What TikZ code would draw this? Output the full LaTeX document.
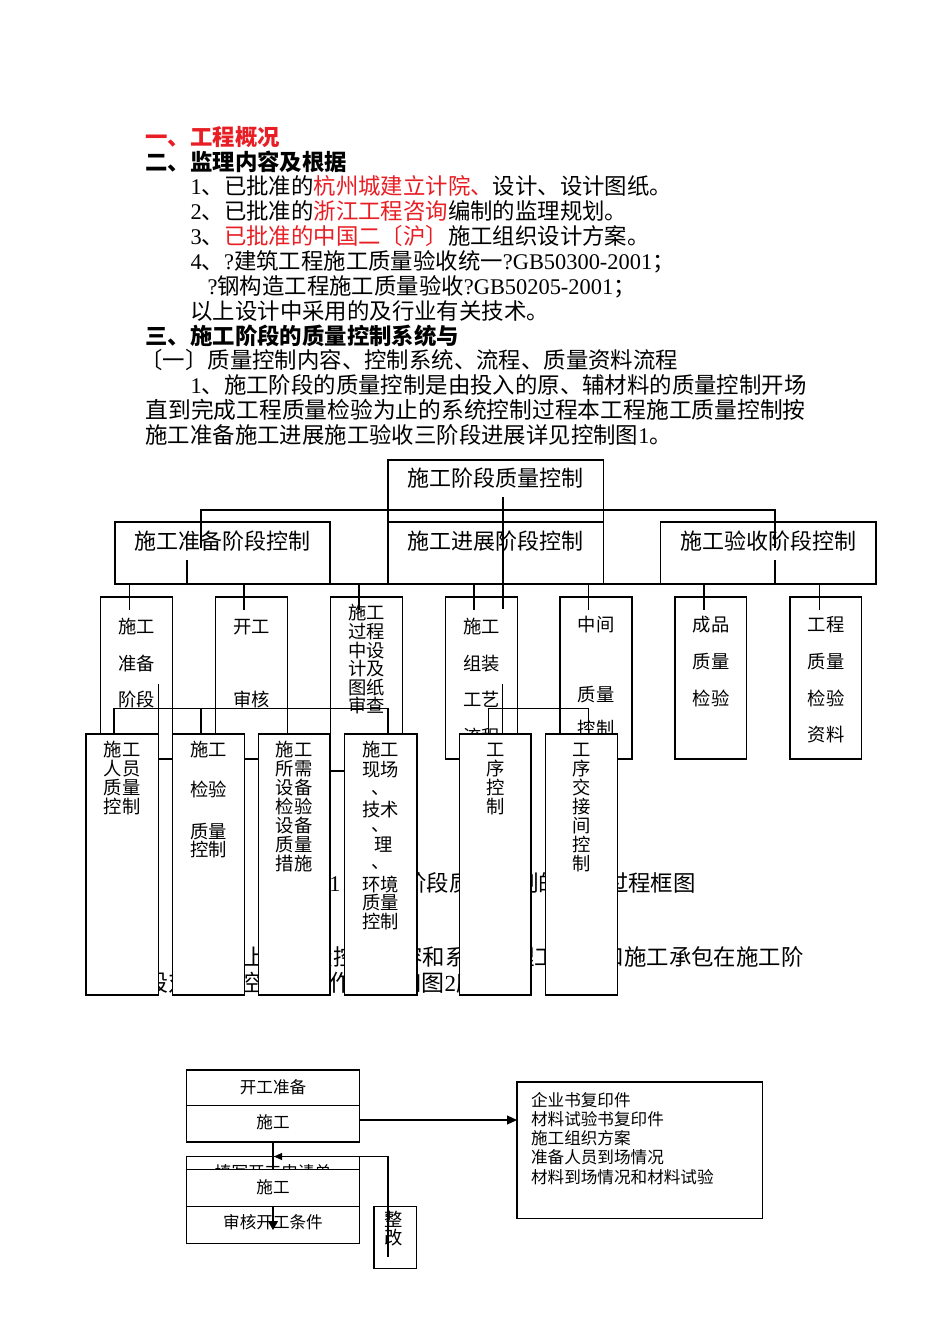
\documentclass[tikz,border=0pt]{standalone}
\usepackage{fontspec}
\setmainfont{Noto Sans CJK SC}
\newfontfamily\lat{Liberation Serif}
\usetikzlibrary{arrows.meta}
\definecolor{hred}{RGB}{232,30,36}
\newcommand{\bx}[5]{\node[box, minimum width={#4pt-#2pt}, minimum height={#5pt-#3pt}] (#1) at (#2,#3) {};}
\newcommand{\col}[4]{\foreach \yy/\tx [count=\i] in {#4} {\node[#3] (#1-\i) at (#2,\yy) {\tx};}}
\begin{document}
\begin{tikzpicture}[x=1pt,y=-1pt,line width=1.1pt,
  hd/.style={inner sep=0pt,text height=19.7pt,text depth=2.7pt,anchor=west,font=\fontsize{22.4}{25}\selectfont},
  hb/.style={hd,font=\bfseries\fontsize{22.4}{25}\selectfont},
  big/.style={inner sep=0pt,text height=19.4pt,text depth=2.6pt,font=\fontsize{22}{24}\selectfont},
  sm/.style={inner sep=0pt,text height=16.1pt,text depth=2.2pt,font=\fontsize{18.3}{19}\selectfont},
  fl/.style={inner sep=0pt,text height=14.6pt,text depth=2pt,font=\fontsize{16.6}{19}\selectfont},
  box/.style={draw,fill=white,anchor=north west,inner sep=0pt,outer sep=0pt},
]
\fill[white] (0,0) rectangle (950,1344);
\useasboundingbox (0,0) rectangle (950,1344);

% ---------- header text ----------
\node[hb,text=hred] (h1) at (145,137) {一、工程概况};
\node[hb] (h2) at (145,162) {二、监理内容及根据};
\node[hd] (h3) at (190,186) {{\lat 1}、已批准的\textcolor{hred}{杭州城建立计院、}设计、设计图纸。};
\node[hd] (h4) at (190,211) {{\lat 2}、已批准的\textcolor{hred}{浙江工程咨询}编制的监理规划。};
\node[hd] (h5) at (190,236) {{\lat 3}、\textcolor{hred}{已批准的中国二〔沪〕}施工组织设计方案。};
\node[hd] (h6) at (190,261) {{\lat 4}、{\lat ?}建筑工程施工质量验收统一{\lat ?GB50300-2001}；};
\node[hd] (h7) at (207,286) {{\lat ?}钢构造工程施工质量验收{\lat ?GB50205-2001}；};
\node[hd] (h8) at (190,311) {以上设计中采用的及行业有关技术。};
\node[hb] (h9) at (145,336) {三、施工阶段的质量控制系统与};
\node[hd] (h10) at (140,360) {〔一〕质量控制内容、控制系统、流程、质量资料流程};
\node[hd] (h11) at (190,385) {{\lat 1}、施工阶段的质量控制是由投入的原、辅材料的质量控制开场};
\node[hd,font=\fontsize{22.76}{25}\selectfont] (h12) at (145,410) {直到完成工程质量检验为止的系统控制过程本工程施工质量控制按};
\node[hd] (h13) at (145,435) {施工准备施工进展施工验收三阶段进展详见控制图{\lat 1}。};

% ---------- text lying behind the chart ----------
\node[hd,anchor=east] (cap1) at (341,883) {图{\lat 1}};
\node[hd] (cap2) at (359.2,883) {施工阶段质量控制的系统过程框图};
\node[hd] (p1) at (187,957) {{\lat 2}、以上的质量控制内容和系统监理工程师和施工承包在施工阶};
\node[hd,font=\fontsize{23}{25}\selectfont] (p2) at (145,983) {段对质量控制的工作程序如图{\lat 2}所示。};

% ---------- top and stage boxes ----------
\bx{top}{388}{460}{603.5}{522}
\bx{A}{115}{522}{330}{584}
\bx{B}{388}{522}{603.5}{584}
\bx{C}{660.5}{522}{876}{584}
\node[big] (topt) at (495.7,478) {施工阶段质量控制};
\node[big] (At) at (222.5,541) {施工准备阶段控制};
\node[big] (Bt) at (495.7,541) {施工进展阶段控制};
\node[big] (Ct) at (768.3,541) {施工验收阶段控制};

% ---------- first row of sub boxes ----------
\bx{c1}{100.7}{597}{172.3}{759}
\bx{c2}{215.7}{597}{287.3}{759}
\bx{c3}{330.7}{597}{402.3}{771}
\bx{c4}{445.3}{597}{517.3}{759}
\bx{c5}{560}{597}{632}{759}
\bx{c6}{675}{597}{746.7}{759}
\bx{c7}{790}{597}{861.7}{759}
\col{c1t}{136.5}{sm}{626.7/施工,663.3/准备,700/阶段}
\col{c2t}{251.5}{sm}{626.7/开工,700/审核}
\col{c3t}{366.5}{sm}{613/施工,631.6/过程,650.2/中设,668.8/计及,687.4/图纸,706/审查}
\col{c4t}{481.7}{sm}{626.7/施工,663.3/组装,700/工艺,736.7/流程}
\col{c5t}{596}{sm}{625/中间,695/质量,728.3/控制}
\col{c6t}{711}{sm}{625/成品,661.7/质量,698.3/检验}
\col{c7t}{826}{sm}{625/工程,661.7/质量,698.3/检验,735/资料}

% ---------- connectors, upper levels ----------
\coordinate (k1) at (201,510); \coordinate (k2) at (775,510);
\coordinate (k1b) at (201,548); \coordinate (k2b) at (775,548);
\coordinate (km1) at (503,497); \coordinate (km2) at (503,609);
\coordinate (kA1) at (187,560); \coordinate (kA2) at (187,584);
\coordinate (kC1) at (775,560); \coordinate (kC2) at (775,584);
\draw (k1b) -- (k1) -- (k2) -- (k2b);
\draw (km1) -- (km2);
\draw (kA1) -- (kA2);
\draw (kC1) -- (kC2);
\coordinate (b2a) at (129.5,584); \coordinate (b2b) at (819.5,584);
\draw (b2a) -- (b2b);
\foreach \xx [count=\i] in {129.5,244,359,474,588.5,704,819.5}{
  \coordinate (va\i) at (\xx,584); \coordinate (vb\i) at (\xx,610);
  \draw (va\i) -- (vb\i);}

% ---------- connectors, second level ----------
\coordinate (L1) at (114,708.3); \coordinate (L2) at (201,708.3); \coordinate (L3) at (388,708.3);
\coordinate (L1d) at (114,734); \coordinate (L2d) at (201,734); \coordinate (L3d) at (388,734);
\draw (L1d) -- (L1) -- (L3) -- (L3d);
\draw (L2) -- (L2d);
\coordinate (L4) at (158.3,684); \coordinate (L4d) at (158.3,734);
\draw (L4) -- (L4d);
\coordinate (R1) at (488.3,708.3); \coordinate (R2) at (588.3,708.3);
\coordinate (R1d) at (488.3,734); \coordinate (R2d) at (588.3,734);
\draw (R1d) -- (R1) -- (R2) -- (R2d);
\coordinate (R3) at (502.5,684); \coordinate (R3d) at (502.5,734);
\draw (R3) -- (R3d);

% ---------- second row of sub boxes ----------
\bx{d1}{86}{734}{158.3}{995}
\bx{d2}{172.3}{734}{244.3}{995}
\bx{d3}{258.3}{734}{330}{995}
\bx{d4}{344.3}{734}{417}{995}
\bx{d5}{459.3}{734}{531}{995}
\bx{d6}{545.3}{734}{617.7}{995}
\col{d1t}{122.2}{sm}{750/施工,769/人员,788/质量,807/控制}
\col{d2t}{208.3}{sm}{750/施工,790/检验,831.7/质量,850/控制}
\col{d3t}{294.2}{sm}{750/施工,769/所需,788/设备,807/检验,826/设备,845/质量,864/措施}
\col{d4t}{380.7}{sm}{750/施工,770/现场,810/技术,885/环境,903/质量,922/控制}
\node[sm,anchor=west] (d4c1) at (371,788) {、};
\node[sm,anchor=west] (d4c2) at (371,825) {、};
\node[sm] (d4l) at (384,845) {理};
\node[sm,anchor=west] (d4c3) at (371,862) {、};
\col{d5t}{495.2}{sm}{750/工,769/序,788/控,807/制}
\col{d6t}{581.5}{sm}{750/工,769/序,788/交,807/接,826/间,845/控,864/制}

% ---------- lower flow chart ----------
\bx{P1}{186.5}{1070}{359.5}{1105.5}
\bx{P2}{186.5}{1105.5}{359.5}{1142}
\node[fl] (P1t) at (273,1087) {开工准备};
\node[fl] (P2t) at (273,1122) {施工};
\bx{R}{517}{1082}{762.5}{1218.5}
\col{Rt}{530.5}{fl,anchor=west}{1100/企业书复印件,1119.2/材料试验书复印件,1138.4/施工组织方案,1157.6/准备人员到场情况,1176.8/材料到场情况和材料试验}
\coordinate (ar1) at (359.5,1120); \coordinate (ar2) at (517,1120);
\draw[-{Triangle[length=10pt,width=9pt]}] (ar1) -- (ar2);
\bx{P3}{186.7}{1156.7}{359.3}{1193}
\node[fl] (P3t) at (273,1172) {填写开工申请单};
\bx{P5}{186.7}{1206.7}{359.3}{1243.3}
\node[fl] (P5t) at (273,1222) {审核开工条件};
\bx{Q}{374}{1206.7}{416.7}{1268.3}
\node[sm] (Q1) at (394,1220) {整};
\node[sm] (Q2) at (394,1237.5) {改};
\coordinate (dn1) at (273,1142); \coordinate (dn2) at (273,1230);
\draw[-{Triangle[length=9pt,width=10pt]}] (dn1) -- (dn2);
\bx{P4}{186.7}{1169.3}{359.3}{1206.7}
\node[fl] (P4t) at (273,1187) {施工};
\coordinate (lf1) at (388,1257); \coordinate (lf2) at (388,1156.5); \coordinate (lf3) at (274,1156.5);
\draw[-{Triangle[length=8pt,width=7pt]}] (lf1) -- (lf2) -- (lf3);
\end{tikzpicture}
\end{document}
